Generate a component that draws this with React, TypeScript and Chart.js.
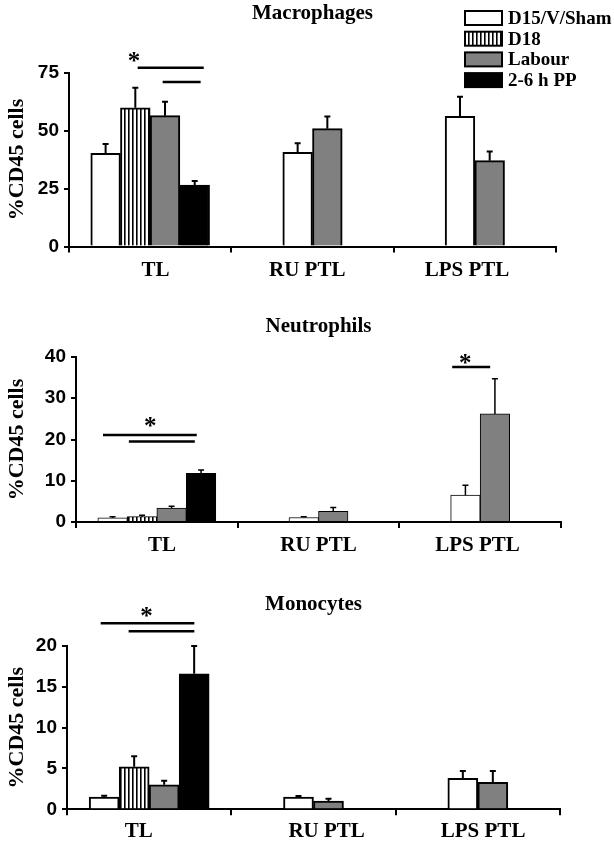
import React, { useEffect, useRef } from "react";
import { Chart, registerables } from "chart.js";

Chart.register(...registerables);

// ---------- data ----------
const categories = ["TL", "RU PTL", "LPS PTL"];
const seriesNames = ["D15/V/Sham", "D18", "Labour", "2-6 h PP"];
const yAxisTitle = "%CD45 cells";

// Macrophages
const macroTitle = "Macrophages";
const macroTicks = [0, 25, 50, 75];
const macroSham = [40.2, 40.6, 56.1];
const macroShamErr = [4.0, 3.9, 8.5];
const macroD18 = [59.8, null, null];
const macroD18Err = [8.6, null, null];
const macroLabour = [56.4, 50.8, 37.0];
const macroLabourErr = [6.0, 5.2, 3.9];
const macroPP = [26.5, null, null];
const macroPPErr = [1.7, null, null];
// significance bars: [from (category index), to (category index), value]
const macroSigLines = [
  [-0.077, 0.33, 77.1],
  [0.077, 0.311, 70.9],
];
const macroStars = [[-0.1, 81.8]];

// Neutrophils
const neutroTitle = "Neutrophils";
const neutroTicks = [0, 10, 20, 30, 40];
const neutroSham = [1.0, 1.1, 6.5];
const neutroShamErr = [0.3, 0.2, 2.4];
const neutroD18 = [1.3, null, null];
const neutroD18Err = [0.35, null, null];
const neutroLabour = [3.4, 2.6, 26.2];
const neutroLabourErr = [0.4, 0.9, 8.5];
const neutroPP = [11.8, null, null];
const neutroPPErr = [0.8, null, null];
const neutroSigLines = [
  [-0.333, 0.247, 21.1],
  [-0.173, 0.235, 19.5],
  [1.827, 2.062, 37.6],
];
const neutroStars = [
  [-0.04, 24.4],
  [1.907, 39.6],
];

// Monocytes
const monoTitle = "Monocytes";
const monoTicks = [0, 5, 10, 15, 20];
const monoSham = [1.5, 1.5, 3.8];
const monoShamErr = [0.15, 0.12, 0.9];
const monoD18 = [5.2, null, null];
const monoD18Err = [1.3, null, null];
const monoLabour = [3.0, 1.0, 3.3];
const monoLabourErr = [0.5, 0.3, 1.4];
const monoPP = [16.6, null, null];
const monoPPErr = [3.4, null, null];
const monoSigLines = [
  [-0.295, 0.275, 22.8],
  [-0.125, 0.275, 21.8],
];
const monoStars = [[-0.016, 24.2]];

// ---------- styling ----------
const SERIF = "'Liberation Serif', 'Times New Roman', serif";
const SANS = "'Liberation Sans', Arial, sans-serif";

function makeStripePattern(): CanvasPattern | string {
  const c = document.createElement("canvas");
  c.width = 4;
  c.height = 4;
  const g = c.getContext("2d");
  if (!g) return "#888";
  g.fillStyle = "#ffffff";
  g.fillRect(0, 0, 4, 4);
  g.fillStyle = "#000000";
  g.fillRect(0, 0, 1.6, 4);
  const ctx = document.createElement("canvas").getContext("2d");
  const p = ctx ? ctx.createPattern(c, "repeat") : null;
  return p || "#888";
}

const errorBarPlugin = {
  id: "errorBars",
  afterDatasetsDraw(chart: any, _a: any, opts: any) {
    const ctx = chart.ctx;
    const yScale = chart.scales.y;
    ctx.save();
    ctx.strokeStyle = "#000";
    ctx.lineWidth = opts.lineWidth || 2;
    chart.data.datasets.forEach((ds: any, i: number) => {
      const meta = chart.getDatasetMeta(i);
      if (!meta.visible) return;
      ds.data.forEach((v: number | null, j: number) => {
        const e = ds.errors ? ds.errors[j] : null;
        if (v == null || e == null) return;
        const bar = meta.data[j];
        if (!bar) return;
        const x = bar.x;
        const y0 = bar.y;
        const y1 = yScale.getPixelForValue(v + e);
        const cap = opts.cap || 3;
        ctx.beginPath();
        ctx.moveTo(x, y0);
        ctx.lineTo(x, y1);
        ctx.moveTo(x - cap, y1);
        ctx.lineTo(x + cap, y1);
        ctx.stroke();
      });
    });
    ctx.restore();
  },
};

const sigPlugin = {
  id: "sig",
  afterDraw(chart: any, _a: any, opts: any) {
    const ctx = chart.ctx;
    const xs = chart.scales.x;
    const ys = chart.scales.y;
    ctx.save();
    ctx.strokeStyle = "#000";
    ctx.lineWidth = 2.5;
    (opts.lines || []).forEach((l: number[]) => {
      const y = ys.getPixelForValue(l[2]);
      ctx.beginPath();
      ctx.moveTo(xs.getPixelForValue(l[0]), y);
      ctx.lineTo(xs.getPixelForValue(l[1]), y);
      ctx.stroke();
    });
    ctx.fillStyle = "#000";
    ctx.font = `bold 25px ${SERIF}`;
    ctx.textAlign = "center";
    ctx.textBaseline = "alphabetic";
    (opts.stars || []).forEach((s: number[]) => {
      const x = xs.getPixelForValue(s[0]);
      const y = ys.getPixelForValue(s[1]);
      ctx.fillText("*", x, y + 25 * 0.5);
    });
    ctx.restore();
  },
};

const boxLegendPlugin = {
  id: "boxLegend",
  afterDraw(chart: any, _a: any, opts: any) {
    if (!opts || !opts.show) return;
    const ctx = chart.ctx;
    ctx.save();
    chart.data.datasets.forEach((ds: any, i: number) => {
      const y = opts.top + i * opts.step;
      ctx.fillStyle = ds.backgroundColor;
      ctx.fillRect(opts.x, y, opts.w, opts.h);
      ctx.lineWidth = 2;
      ctx.strokeStyle = "#000";
      ctx.strokeRect(opts.x, y, opts.w, opts.h);
      ctx.fillStyle = "#000";
      ctx.font = `bold 19px ${SERIF}`;
      ctx.textAlign = "left";
      ctx.textBaseline = "middle";
      ctx.fillText(ds.label, opts.x + opts.w + 6, y + opts.h / 2 + 1);
    });
    ctx.restore();
  },
};

type PanelSpec = {
  title: string;
  ticks: number[];
  means: (number | null)[][];
  errors: (number | null)[][];
  sigLines: number[][];
  stars: number[][];
  legend: boolean;
  top: number;
  height: number;
  left: number;
  right: number;
  xHeight: number;
  titlePad: { top: number; bottom: number };
  barThickness: number;
  borderWidth: number;
  errWidth: number;
  labelPad: number;
  labelSpaces: [number, number][]; // [leading, trailing] spaces per category label
};

const panels: PanelSpec[] = [
  {
    title: macroTitle,
    ticks: macroTicks,
    means: [macroSham, macroD18, macroLabour, macroPP],
    errors: [macroShamErr, macroD18Err, macroLabourErr, macroPPErr],
    sigLines: macroSigLines,
    stars: macroStars,
    legend: true,
    top: 0,
    height: 290,
    left: 69,
    right: 556,
    xHeight: 43.5,
    titlePad: { top: 1.4, bottom: 45.9 },
    barThickness: 29.7,
    borderWidth: 2,
    errWidth: 2,
    labelPad: 5.4,
    labelSpaces: [
      [2, 0],
      [0, 2],
      [0, 3],
    ],
  },
  {
    title: neutroTitle,
    ticks: neutroTicks,
    means: [neutroSham, neutroD18, neutroLabour, neutroPP],
    errors: [neutroShamErr, neutroD18Err, neutroLabourErr, neutroPPErr],
    sigLines: neutroSigLines,
    stars: neutroStars,
    legend: false,
    top: 290,
    height: 285,
    left: 76,
    right: 561,
    xHeight: 53,
    titlePad: { top: 24.4, bottom: 17.4 },
    barThickness: 29.5,
    borderWidth: 1,
    errWidth: 1.5,
    labelPad: 5.4,
    labelSpaces: [
      [2, 0],
      [0, 0],
      [0, 1],
    ],
  },
  {
    title: monoTitle,
    ticks: monoTicks,
    means: [monoSham, monoD18, monoLabour, monoPP],
    errors: [monoShamErr, monoD18Err, monoLabourErr, monoPPErr],
    sigLines: monoSigLines,
    stars: monoStars,
    legend: false,
    top: 575,
    height: 278,
    left: 67,
    right: 560,
    xHeight: 43.7,
    titlePad: { top: 17.4, bottom: 28.4 },
    barThickness: 30,
    borderWidth: 2,
    errWidth: 2,
    labelPad: 3.4,
    labelSpaces: [
      [0, 4],
      [5, 0],
      [2, 0],
    ],
  },
];

function ChartPanel({ spec }: { spec: PanelSpec }) {
  const ref = useRef<HTMLCanvasElement | null>(null);
  useEffect(() => {
    if (!ref.current) return;
    const stripes = makeStripePattern();
    const fills: any[] = ["#ffffff", stripes, "#808080", "#000000"];
    const ticks = spec.ticks;
    const chart = new Chart(ref.current, {
      type: "bar",
      data: {
        labels: categories,
        datasets: seriesNames.map((name, i) => ({
          label: name,
          data: spec.means[i],
          errors: spec.errors[i],
          backgroundColor: fills[i],
          borderColor: "#000000",
          borderWidth: spec.borderWidth,
          barThickness: spec.barThickness,
          skipNull: true,
        })) as any,
      },
      options: {
        animation: false,
        responsive: false,
        devicePixelRatio: 1,
        layout: {
          padding: { left: 0, right: 614 - spec.right, top: 0, bottom: 0 },
        },
        datasets: { bar: { skipNull: true } } as any,
        scales: {
          x: {
            type: "category",
            offset: true,
            grid: {
              offset: true,
              drawOnChartArea: false,
              drawTicks: true,
              tickLength: 6,
              color: "#000",
              lineWidth: 2,
            },
            border: { display: true, color: "#000", width: 2 },
            ticks: {
              color: "#000",
              font: { family: SERIF, size: 21, weight: "bold" },
              padding: spec.labelPad,
              maxRotation: 0,
              autoSkip: false,
              callback: (_v: any, idx: number) => {
                const [lead, trail] = spec.labelSpaces[idx] || [0, 0];
                return " ".repeat(lead) + categories[idx] + " ".repeat(trail);
              },
            },
            afterFit: (s: any) => {
              s.height = spec.xHeight;
            },
          },
          y: {
            min: ticks[0],
            max: ticks[ticks.length - 1],
            afterBuildTicks: (s: any) => {
              s.ticks = ticks.map((v) => ({ value: v }));
            },
            grid: {
              drawOnChartArea: false,
              drawTicks: true,
              tickLength: 5,
              color: "#000",
              lineWidth: 2,
            },
            border: { display: true, color: "#000", width: 2 },
            ticks: {
              color: "#000",
              font: { family: SANS, size: 19, weight: "bold" },
              padding: 5,
            },
            title: {
              display: true,
              text: yAxisTitle,
              color: "#000",
              font: { family: SERIF, size: 22, weight: "bold" },
              padding: { top: 4, bottom: 0 },
            },
            afterFit: (s: any) => {
              s.width = spec.left;
            },
          },
        },
        plugins: {
          legend: { display: false },
          tooltip: { enabled: false },
          title: {
            display: true,
            text: spec.title,
            color: "#000",
            fullSize: false,
            font: { family: SERIF, size: 21, weight: "bold" },
            padding: spec.titlePad,
          },
          errorBars: { lineWidth: spec.errWidth, cap: 3 },
          sig: { lines: spec.sigLines, stars: spec.stars },
          boxLegend: {
            show: spec.legend,
            x: 465,
            top: 11,
            step: 20.7,
            w: 37,
            h: 14,
          },
        } as any,
      },
      plugins: [errorBarPlugin, sigPlugin, boxLegendPlugin] as any,
    });
    return () => chart.destroy();
  }, [spec]);
  return (
    <canvas
      ref={ref}
      width={614}
      height={spec.height}
      style={{
        position: "absolute",
        left: 0,
        top: spec.top,
        width: 614,
        height: spec.height,
        display: "block",
      }}
    />
  );
}

export default function App() {
  return (
    <div
      style={{
        position: "absolute",
        left: 0,
        top: 0,
        width: 614,
        height: 853,
        background: "#ffffff",
        overflow: "hidden",
      }}
    >
      {panels.map((p) => (
        <ChartPanel key={p.title} spec={p} />
      ))}
    </div>
  );
}
